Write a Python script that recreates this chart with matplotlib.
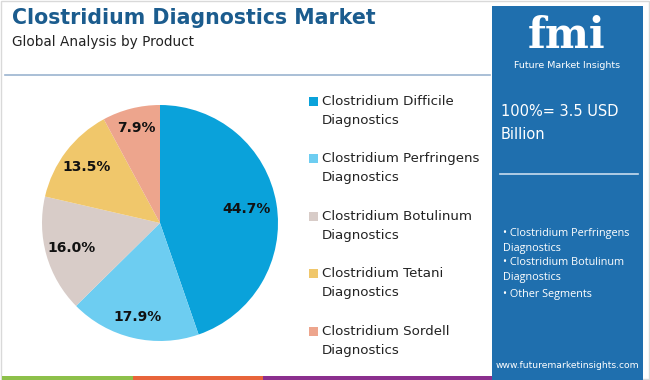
import matplotlib.pyplot as plt
from matplotlib.patches import Rectangle

# Data
products = ['Clostridium Difficile\nDiagnostics', 'Clostridium Perfringens\nDiagnostics',
            'Clostridium Botulinum\nDiagnostics', 'Clostridium Tetani\nDiagnostics',
            'Clostridium Sordell\nDiagnostics']
shares = [44.7, 17.9, 16.0, 13.5, 7.9]
colors = ['#0aa2da', '#6dcdf1', '#d8ccc8', '#f0c76b', '#eda58d']
side_items = ['• Clostridium Perfringens\nDiagnostics', '• Clostridium Botulinum\nDiagnostics',
              '• Other Segments']

W, H = 650, 380
fig = plt.figure(figsize=(6.5, 3.8), dpi=100)
fig.patch.set_facecolor('white')


def fx(x):
    return x / W


def fy(y):
    return 1 - y / H


# Outer border
fig.add_artist(Rectangle((fx(1), fy(379)), fx(648), 378 / H, fill=False,
                         edgecolor='#d9d9d9', lw=1, transform=fig.transFigure))

# Title
fig.text(fx(12), fy(18), 'Clostridium Diagnostics Market', fontsize=14.8, fontweight='bold',
         color='#1b5c8e', va='center', ha='left', family='DejaVu Sans')
fig.text(fx(12), fy(42), 'Global Analysis by Product', fontsize=9.8, color='#222222',
         va='center', ha='left')
fig.add_artist(plt.Line2D([fx(5), fx(490)], [fy(75), fy(75)], color='#9bb4cf', lw=1.2,
                          transform=fig.transFigure))

# Bottom strip
for x0, x1, c in [(2, 133, '#8dc04a'), (133, 263, '#e8643a'), (263, 492, '#8b2f8e')]:
    fig.add_artist(Rectangle((fx(x0), 0), fx(x1 - x0), 4 / H, color=c, lw=0,
                             transform=fig.transFigure))

# Side panel
fig.add_artist(Rectangle((fx(492), 0), fx(151), fy(6), color='#1f6fae', lw=0,
                         transform=fig.transFigure))
fig.text(fx(567), fy(36), 'fmi', fontsize=30, fontweight='bold', family='DejaVu Serif',
         color='white', ha='center', va='center')
fig.text(fx(567), fy(66), 'Future Market Insights', fontsize=6.8, color='white',
         ha='center', va='center')
fig.text(fx(501), fy(123), '100%= 3.5 USD\nBillion', fontsize=10.5, color='white',
         ha='left', va='center', linespacing=1.6)
fig.add_artist(plt.Line2D([fx(500), fx(638)], [fy(174), fy(174)], color='#c8dcee', lw=1.2,
                          transform=fig.transFigure))
for y, t in zip([241, 270, 295], side_items):
    fig.text(fx(503), fy(y), t, fontsize=7.8, color='white', ha='left', va='center',
             linespacing=1.45, family='Open Sans')
fig.text(fx(567), fy(365), 'www.futuremarketinsights.com', fontsize=6.6, color='white',
         ha='center', va='center')

# Pie
ax = fig.add_axes([fx(42), fy(341), fx(236), 236 / H])
wedges, _, autotexts = ax.pie(shares, colors=colors, startangle=90, counterclock=False,
                              autopct='%1.1f%%', pctdistance=1.0,
                              wedgeprops=dict(linewidth=0))
label_dist = [0.74, 0.82, 0.78, 0.78, 0.83]
for t, d in zip(autotexts, label_dist):
    x, y = t.get_position()
    t.set_position((x * d, y * d))
    t.set_fontsize(10)
    t.set_fontweight('bold')
    t.set_color('#111111')
ax.set_xlim(-1, 1)
ax.set_ylim(-1, 1)
ax.set_aspect('equal')

# Legend
leg_y = [102, 159, 217, 274, 332]
for y, lab, c in zip(leg_y, products, colors):
    fig.add_artist(Rectangle((fx(309), fy(y + 4)), fx(9), 9 / H, color=c, lw=0,
                             transform=fig.transFigure))
    fig.text(fx(322), fy(y - 7), lab, fontsize=9.6, color='#222222', ha='left', va='top',
             linespacing=1.6)

fig.savefig('out.png', dpi=100)
